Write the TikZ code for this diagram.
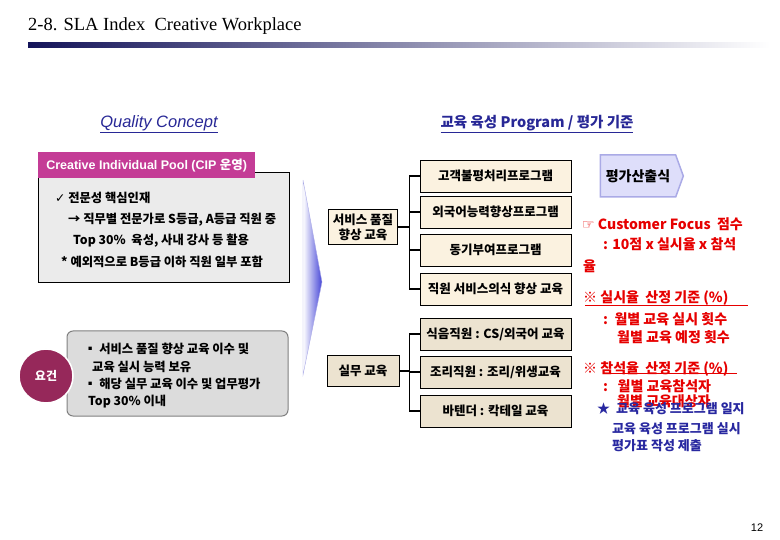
\documentclass[tikz,border=0pt]{standalone}
\usepackage{fontspec}
\setmainfont{Liberation Sans}
\newfontfamily\kr{Noto Sans CJK KR}
\newfontfamily\sym{DejaVu Sans}
\newfontfamily\ttl{Liberation Serif}
\usetikzlibrary{shapes.symbols}
\definecolor{cipmag}{RGB}{196,60,150}
\definecolor{reqmag}{RGB}{150,40,90}
\definecolor{boxgray}{RGB}{235,235,235}
\definecolor{rndgray}{RGB}{220,220,220}
\definecolor{beigelt}{RGB}{251,242,224}
\definecolor{beigedk}{RGB}{236,227,208}
\definecolor{lav}{RGB}{222,222,250}
\definecolor{lavline}{RGB}{170,170,230}
\definecolor{evalred}{RGB}{230,0,0}
\definecolor{evalblue}{RGB}{40,40,160}
\definecolor{headblue}{RGB}{40,40,150}
\definecolor{barnavy}{RGB}{20,20,90}
\begin{document}
\begin{tikzpicture}[x=1pt,y=-1pt,
        prog/.style={draw, line width=0.8pt, fill=beigelt, minimum width=151pt, minimum height=32pt, inner sep=0pt, font=\kr\bfseries\fontsize{12.5}{14}\selectfont},
        cat/.style={draw, line width=0.8pt, fill=beigelt, align=center, inner sep=0pt, font=\kr\bfseries\fontsize{12.5}{15}\selectfont},
        bracket/.style={line width=1.6pt},
        txt/.style={anchor=west, inner sep=0pt, font=\kr\bfseries\fontsize{12.3}{14}\selectfont},
        red/.style={txt, text=evalred, font=\kr\bfseries\fontsize{14}{16}\selectfont},
        blue/.style={txt, text=evalblue, font=\kr\bfseries\fontsize{13}{15}\selectfont}
    ]
    \useasboundingbox (0,0) rectangle (780,540);

    % title and bar
    \node[anchor=west, inner sep=0pt, font=\ttl\fontsize{18.5}{20}\selectfont] (title) at (28,26) {2-8. SLA Index\ \ Creative Workplace};
    \shade[left color=barnavy, right color=white] (28,43) rectangle (770,48);

    % headings
    \node[font=\itshape\fontsize{16.5}{18}\selectfont, text=headblue] (qc) at (159,124) {\underline{Quality Concept}};
    \node[font=\kr\bfseries\fontsize{14.5}{16}\selectfont, text=headblue] (prg) at (537,124) {\underline{교육 육성 Program / 평가 기준}};

    % CIP box
    \draw[fill=boxgray, line width=0.6pt] (38,172) rectangle (289,282);
    \node[fill=cipmag, minimum width=217pt, minimum height=26pt, inner sep=0pt, anchor=north west, text=white, font=\bfseries\fontsize{12.5}{14}\selectfont] (cip) at (38,152) {Creative Individual Pool (CIP {\kr 운영})};
    \node[txt] (l1) at (55,198) {{\sym ✓} 전문성 핵심인재};
    \node[txt] (l2) at (68,220) {→ 직무별 전문가로 S등급, A등급 직원 중};
    \node[txt] (l3) at (73,241) {Top 30\%\ \ 육성, 사내 강사 등 활용};
    \node[txt] (l4) at (61,262) {* 예외적으로 B등급 이하 직원 일부 포함};

    % requirement box
    \draw[fill=rndgray, draw=gray, line width=1pt, rounded corners=6pt] (67,331) rectangle (288,416);
    \node[circle, fill=reqmag, draw=white, line width=1.5pt, minimum size=54pt, inner sep=0pt, text=white, font=\kr\bfseries\fontsize{12}{14}\selectfont] (req) at (46,376) {요건};
    \node[txt] (m1) at (84,349) {▪ 서비스 품질 향상 교육 이수 및};
    \node[txt] (m2) at (92,367) {교육 실시 능력 보유};
    \node[txt] (m3) at (84,384) {▪ 해당 실무 교육 이수 및 업무평가};
    \node[txt] (m4) at (88,402) {Top 30\% 이내};

    % wedge
    \shade[left color=white, right color={rgb,255:red,70;green,70;blue,215}, draw=lavline, line width=0.4pt] (303,180) -- (322,282) -- (303,375) -- cycle;

    % programs
    \node[cat, minimum width=69pt, minimum height=35pt] (svc) at (363,227) {서비스 품질\\향상 교육};
    \node[prog] (p1) at (495.5,176) {고객불평처리프로그램};
    \node[prog] (p2) at (495.5,212) {외국어능력향상프로그램};
    \node[prog] (p3) at (495.5,250) {동기부여프로그램};
    \node[prog] (p4) at (495.5,289) {직원 서비스의식 향상 교육};
    \coordinate (bj) at (410,176);
    \draw[bracket] (p1.west) -- ++(-10,0) |- (p4.west);
    \draw[bracket] (p2.west) -- ++(-10,0);
    \draw[bracket] (p3.west) -- ++(-10,0);
    \draw[bracket] (svc.east) -- (svc.east -| bj);

    \node[cat, fill=beigedk, minimum width=72pt, minimum height=31pt] (prac) at (363,371) {실무 교육};
    \node[prog, fill=beigedk] (q1) at (495.5,334) {식음직원 : CS/외국어 교육};
    \node[prog, fill=beigedk] (q2) at (495.5,372) {조리직원 : 조리/위생교육};
    \node[prog, fill=beigedk] (q3) at (495.5,411) {바텐더 : 칵테일 교육};
    \draw[bracket] (q1.west) -- ++(-10,0) |- (q3.west);
    \draw[bracket] (q2.west) -- ++(-10,0);
    \draw[bracket] (prac.east) -- (prac.east -| bj);

    % evaluation
    \node[signal, signal to=east, signal pointer angle=140, fill=lav, draw=lavline, line width=1.5pt, minimum width=83pt, minimum height=42pt, inner sep=0pt, font=\kr\bfseries\fontsize{14}{16}\selectfont] (eval) at (638,176) {평가산출식};
    \node[red] (r1) at (582,224) {{\sym ☞} Customer Focus\ \ 점수};
    \node[red] (r2) at (603,244) {: 10점 x 실시율 x 참석};
    \node[red] (r3) at (583,266) {율};
    \node[red] (r4) at (583,298) {※ 실시율\ \ 산정 기준 (\%)};
    \node[red] (r5) at (603,319) {:\ \ 월별 교육 실시 횟수};
    \node[red] (r6) at (617,337) {월별 교육 예정 횟수};
    \node[red] (r7) at (583,369) {※ 참석율\ \ 산정 기준 (\%)};
    \node[red] (r8) at (603,386) {:\ \ \ 월별 교육참석자};
    \node[red] (r9) at (617,401) {월별 교육대상자};
    \draw[evalred, line width=0.8pt] (585,305) -- (748,305);
    \draw[evalred, line width=0.8pt] (603,373) -- (737,373);
    \node[blue] (b1) at (597,409) {★\ \ 교육 육성 프로그램 일지};
    \node[blue] (b2) at (612,429) {교육 육성 프로그램 실시};
    \node[blue] (b3) at (612,446) {평가표 작성 제출};

    \node[font=\fontsize{11}{13}\selectfont] (page) at (757,528) {12};
\end{tikzpicture}
\end{document}
